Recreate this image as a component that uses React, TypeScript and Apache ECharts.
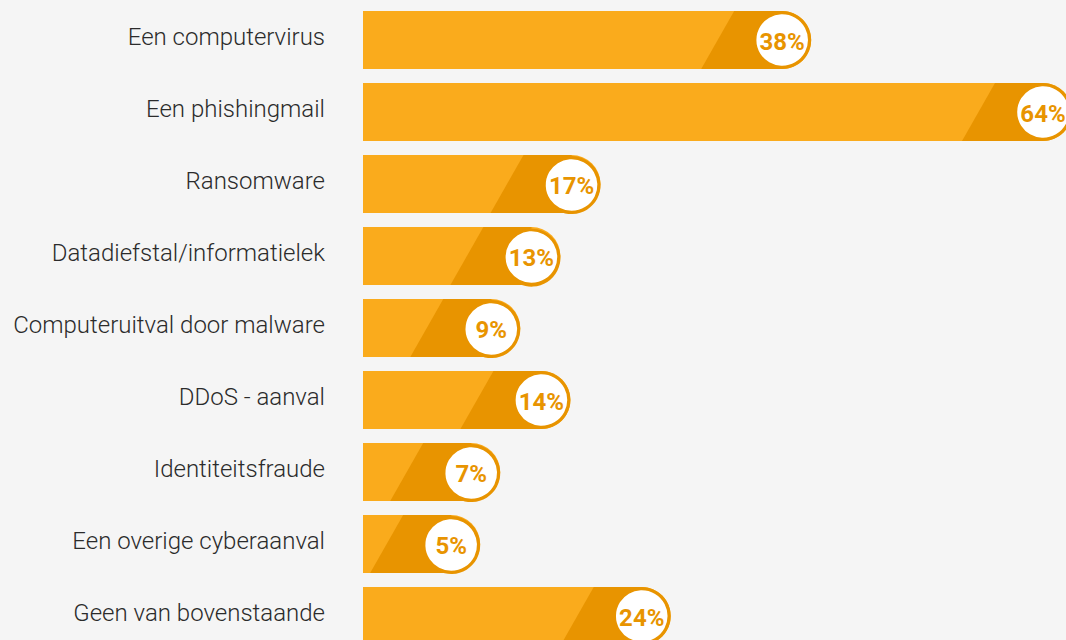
import React, { useEffect, useRef } from "react";
import * as echarts from "echarts";

const categories = [
  "Een computervirus",
  "Een phishingmail",
  "Ransomware",
  "Datadiefstal/informatielek",
  "Computeruitval door malware",
  "DDoS - aanval",
  "Identiteitsfraude",
  "Een overige cyberaanval",
  "Geen van bovenstaande",
];
const values = [38, 64, 17, 13, 9, 14, 7, 5, 24];

const LIGHT = "#FAAB1C";
const DARK = "#E89400";

export default function App() {
  const ref = useRef<HTMLDivElement>(null);
  useEffect(() => {
    const chart = echarts.init(ref.current!, null, { renderer: "svg" });
    const H = 58;
    const R = 29;
    const PAD = 67;
    chart.setOption({
      animation: false,
      backgroundColor: "#F5F5F5",
      grid: { left: 430, top: 4, width: 642, height: 648 },
      xAxis: { type: "value", min: 0, max: 64, show: false },
      yAxis: {
        type: "category",
        data: categories,
        inverse: true,
        axisLine: { show: false },
        axisTick: { show: false },
        axisLabel: {
          margin: 105,
          formatter: "{a|{value}}",
          rich: {
            a: {
              fontSize: 24,
              fontWeight: 300,
              color: "#2B2B2B",
              fontFamily: "Roboto",
              padding: [0, 0, 7, 0],
            },
          },
        },
      },
      series: [
        {
          type: "custom",
          data: values.map((v, i) => [v, i]),
          encode: { x: 0, y: 1 },
          renderItem: (params: any, api: any) => {
            const v = api.value(0);
            const idx = api.value(1);
            const end = api.coord([v, idx]);
            const start = api.coord([0, idx]);
            const x0 = start[0] - PAD;
            const x1 = end[0];
            const y = end[1] - H / 2;
            const cx = x1 - R;
            const cy = end[1];
            return {
              type: "group",
              children: [
                {
                  type: "rect",
                  shape: { x: x0, y, width: x1 - x0, height: H, r: [0, R, R, 0] },
                  style: { fill: LIGHT },
                },
                {
                  type: "polygon",
                  shape: {
                    points: [
                      [x1 - 77, y],
                      [cx, y],
                      [cx, y + H],
                      [x1 - 110, y + H],
                    ],
                  },
                  style: { fill: DARK },
                },
                {
                  type: "circle",
                  shape: { cx, cy, r: R },
                  style: { fill: DARK },
                },
                {
                  type: "circle",
                  shape: { cx, cy, r: 26.8 },
                  style: { fill: "#FFFFFF", stroke: DARK, lineWidth: 2 },
                },
                {
                  type: "text",
                  style: {
                    x: cx,
                    y: cy + 2,
                    text: v + "%",
                    align: "center",
                    verticalAlign: "middle",
                    fill: DARK,
                    fontSize: 24,
                    fontWeight: "bold",
                    fontFamily: "Roboto",
                  },
                },
              ],
            };
          },
        },
      ],
    });
    return () => chart.dispose();
  }, []);
  return (
    <div
      ref={ref}
      style={{ position: "fixed", left: 0, top: 0, width: 1080, height: 660 }}
    />
  );
}
